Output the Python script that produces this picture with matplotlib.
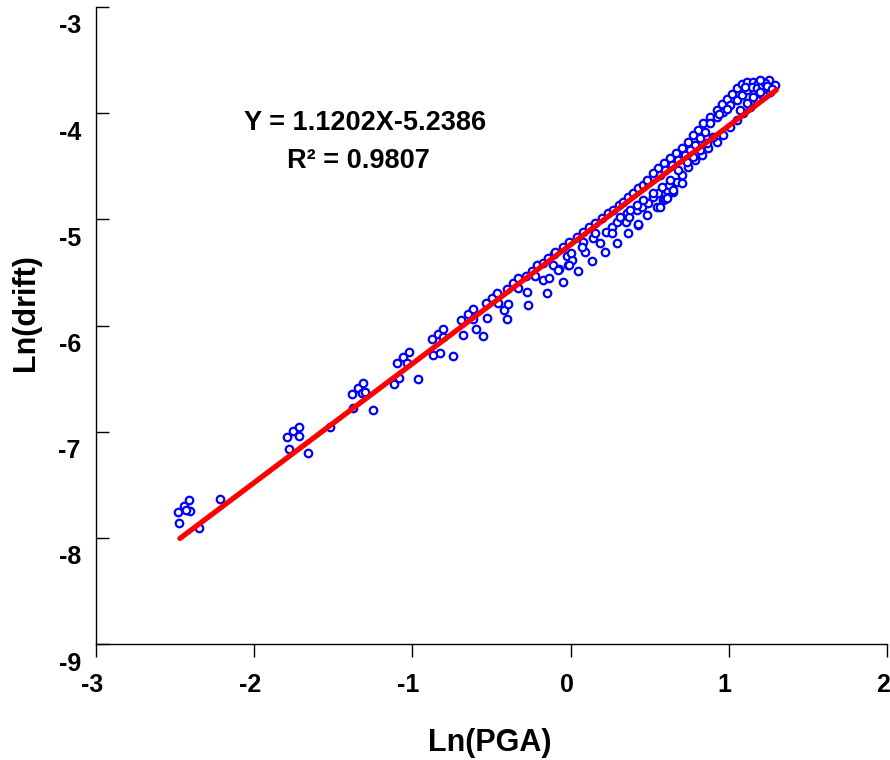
import numpy as np
import matplotlib
matplotlib.use('Agg')
import matplotlib.pyplot as plt
from matplotlib.transforms import ScaledTranslation

plt.rcParams['font.family'] = ['Liberation Sans', 'DejaVu Sans']
plt.rcParams['font.weight'] = 'bold'
plt.rcParams['axes.unicode_minus'] = False

# 1. Data (Ln(PGA), Ln(drift))
ln_pga = [
    -2.482, -2.475, -2.444, -2.412, -2.406, -2.431, -2.349, -2.216,
    -1.793, -1.755, -1.717, -1.717, -1.780, -1.660, -1.521,
    -1.382, -1.344, -1.312, -1.319, -1.300, -1.375, -1.249,
    -1.097, -1.059, -1.021, -1.034, -1.116, -1.085, -0.965,
    -0.870, -0.826, -0.743, -0.876, -0.838, -0.807, -0.807, -0.680,
    -0.693, -0.649, -0.617, -0.617, -0.598, -0.554, -0.528, -0.535, -0.497,
    -0.465, -0.459, -0.420, -0.401, -0.395, -0.401, -0.364, -0.332, -0.332,
    -0.275, -0.268, -0.281, -0.243, -0.211, -0.224, -0.173, -0.135, -0.148,
    -0.173, -0.142, -0.104, -0.111, -0.073, -0.048, -0.022, 0.009, -0.016,
    0.047, 0.091, 0.136, 0.003,
    -0.098, -0.048, -0.009, 0.041, 0.079, 0.117, 0.155, 0.199, 0.237, 0.269,
    0.307, 0.332, 0.364, 0.396, 0.427, 0.459, 0.491,
    -0.079, -0.009, 0.079, 0.072, 0.142, 0.155, 0.186, 0.224, 0.218, 0.262,
    0.262, 0.294, 0.294, 0.313, 0.351, 0.357, 0.364, 0.420, 0.427, 0.370,
    0.452, 0.484, 0.491, 0.522, 0.547, 0.553, 0.585, 0.610, 0.623, 0.648,
    0.674, 0.705, 0.598,
    0.837, 0.881, 0.925, 0.957, 0.989, 1.021, 1.052, 1.084, 1.116, 1.154,
    1.217, 1.254, 1.292, 1.185, 0.805, 0.774, 0.742, 0.704, 0.666, 0.628,
    0.590, 0.552, 0.521, 0.483,
    0.850, 0.881, 0.925, 0.963, 1.008, 1.052, 1.084, 1.116, 1.147, 1.179,
    1.210, 1.229, 0.818, 0.786, 0.755, 0.723, 0.679, 0.641, 0.597, 0.565,
    0.925, 0.963, 1.008, 1.052, 1.090, 1.134, 1.179, 1.217, 1.261, 0.869,
    0.831, 0.786, 0.742, 0.704, 0.647, 0.609, 0.565, 0.426,
    0.900, 0.862, 0.818, 0.774, 0.736, 0.679, 0.628, 0.578, 0.521, 0.458,
    0.420, 0.376, 1.071, 1.116, 1.154, 1.197,
    1.240, 1.270, 1.200, 1.100, 0.990, 0.940,
]
ln_drift = [
    -7.755, -7.859, -7.699, -7.642, -7.746, -7.736, -7.906, -7.633,
    -7.049, -6.992, -6.955, -7.040, -7.162, -7.200, -6.955,
    -6.644, -6.588, -6.540, -6.635, -6.628, -6.776, -6.795,
    -6.352, -6.296, -6.249, -6.352, -6.550, -6.493, -6.503,
    -6.277, -6.258, -6.287, -6.127, -6.080, -6.032, -6.107, -6.089,
    -5.947, -5.891, -5.844, -5.938, -6.032, -6.098, -5.928, -5.787, -5.740,
    -5.693, -5.787, -5.853, -5.938, -5.797, -5.655, -5.599, -5.552, -5.646,
    -5.684, -5.806, -5.533, -5.486, -5.429, -5.533, -5.571, -5.552, -5.693,
    -5.411, -5.363, -5.326, -5.429, -5.467, -5.589, -5.345, -5.382, -5.429,
    -5.486, -5.307, -5.392, -5.317,
    -5.307, -5.260, -5.213, -5.166, -5.119, -5.072, -5.034, -4.987, -4.940, -4.912,
    -4.865, -4.836, -4.789, -4.751, -4.704, -4.676, -4.648,
    -5.476, -5.429, -5.213, -5.262, -5.175, -5.128, -5.222, -5.119, -5.307, -5.072,
    -5.128, -5.025, -5.222, -4.977, -5.025, -4.940, -5.128, -4.912, -5.053, -4.977,
    -4.883, -4.959, -4.846, -4.789, -4.883, -4.751, -4.817, -4.723, -4.676, -4.742,
    -4.648, -4.657, -4.808,
    -4.092, -4.036, -3.970, -3.913, -3.866, -3.819, -3.763, -3.725, -3.706, -3.706,
    -3.706, -3.687, -3.734, -3.716, -4.158, -4.205, -4.271, -4.328, -4.375, -4.422,
    -4.469, -4.516, -4.563, -4.629,
    -4.177, -4.092, -4.036, -3.989, -3.923, -3.876, -3.829, -3.782, -3.753, -3.763,
    -3.734, -3.716, -4.234, -4.299, -4.347, -4.394, -4.441, -4.488, -4.535, -4.582,
    -4.271, -4.205, -4.130, -4.064, -3.998, -3.942, -3.876, -3.829, -3.800, -4.328,
    -4.394, -4.441, -4.507, -4.582, -4.723, -4.798, -4.883, -5.043,
    -4.224, -4.281, -4.347, -4.412, -4.460, -4.535, -4.629, -4.695, -4.751, -4.817,
    -4.864, -4.911, -3.970, -3.904, -3.847, -3.800,
    -3.740, -3.770, -3.690, -3.750, -3.960, -4.010,
]

# Fitted line and its reported coefficients
slope, intercept, r2 = 1.1202, -5.2386, 0.9807
fit_x = np.array([-2.47, 1.30])

# 2. Figure
fig = plt.figure(figsize=(8.9, 7.6), dpi=100)
ax = fig.add_axes([0.108, 0.1526, 0.8886, 0.8382])

ax.plot(ln_pga, ln_drift, linestyle='none', marker='o', markersize=5.4,
        markerfacecolor='white', markeredgecolor='#0000ff', markeredgewidth=1.6, zorder=3)
ax.plot(fit_x, slope * fit_x + intercept, color='#ff0000', linewidth=3.8,
        solid_capstyle='round', zorder=4)

ax.text(-1.30, -4.092, f'Y = {slope:.4f}X{intercept:.4f}', ha='center', va='center',
        fontsize=19.5, fontweight='bold')
ax.text(-1.344, -4.450, f'R\u00b2 = {r2:.4f}', ha='center', va='center',
        fontsize=19.5, fontweight='bold')

# 3. Axes formatting
ax.set_xlim(-3, 2)
ax.set_ylim(-9, -3)
ax.set_xticks([-3, -2, -1, 0, 1, 2])
ax.set_yticks([-9, -8, -7, -6, -5, -4, -3])
ax.spines['top'].set_visible(False)
ax.spines['right'].set_visible(False)
for s in ['left', 'bottom']:
    ax.spines[s].set_linewidth(1.0)

ax.tick_params(axis='x', direction='out', length=9, width=1.0, pad=12, labelsize=18)
ax.tick_params(axis='y', direction='in', length=9.5, width=1.0, pad=11, labelsize=18)
for lbl in ax.get_yticklabels():
    lbl.set_fontweight('bold')
    lbl.set_transform(lbl.get_transform() + ScaledTranslation(0, -0.17, fig.dpi_scale_trans))
for lbl in ax.get_xticklabels():
    lbl.set_fontweight('bold')
    lbl.set_transform(lbl.get_transform() + ScaledTranslation(-0.04, 0, fig.dpi_scale_trans))

ax.set_xlabel('Ln(PGA)', fontsize=22, fontweight='bold')
ax.set_ylabel('Ln(drift)', fontsize=22, fontweight='bold')
ax.xaxis.set_label_coords(0.498, -0.132)
ax.yaxis.set_label_coords(-0.07, 0.521)

fig.savefig('out.png', dpi=100)
